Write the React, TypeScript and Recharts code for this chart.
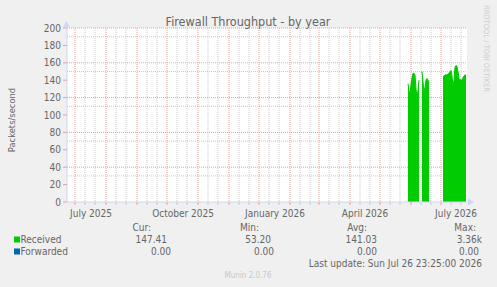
import React from 'react';
import { ComposedChart, Area, XAxis, YAxis, CartesianGrid } from 'recharts';

// x is counted in days from the left edge of the plot (about 23 June 2025)
const totalDays = 400;
const monthStartDays = [8, 39, 70, 100, 131, 162, 192, 223, 252, 283, 313, 344, 374];
const minorGridDays = [18, 28, 49, 59, 80, 90, 110, 120, 141, 151, 172, 182, 202, 212, 233, 243, 262, 272, 293, 303, 323, 333, 354, 364, 384, 394];
const labelDays = [24, 116, 208, 298, 389];
const labelNames = ['July 2025', 'October 2025', 'January 2026', 'April 2026', 'July 2026'];

const yMajorTicks = [0, 20, 40, 60, 80, 100, 120, 140, 160, 180, 200];
const yMinorTicks = [10, 30, 50, 70, 90, 110, 130, 150, 170, 190];

// Received packets/second, three stretches of samples
const receivedStart1 = 341;
const received1 = [136, 128, 124, 135, 143, 148, 148, 146, 130, 120, 128, 140];
const receivedStart2 = 355;
const received2 = [150, 138, 126, 132, 140, 142, 140, 138];
const receivedStart3 = 376;
const received3 = [144, 145, 146, 146, 146, 147, 148, 150, 151, 145, 133, 140, 155, 157, 156, 150, 142, 140, 141, 139, 143, 145, 146, 146];

const segments = [
  { start: receivedStart1, values: received1 },
  { start: receivedStart2, values: received2 },
  { start: receivedStart3, values: received3 },
];

const table = Array.from({ length: totalDays + 1 }, (_, day) => {
  let received: number | null = null;
  for (const s of segments) {
    if (day >= s.start && day < s.start + s.values.length) received = s.values[day - s.start];
  }
  return { day, received };
});

const FONT = "'DejaVu Sans Condensed', 'DejaVu Sans', sans-serif";
const TEXT = '#666666';
const AXIS = '#CFD6F8';
const MGRID = '#e4a3a3';
const GRID = '#c9c9c9';

const legendRows = [
  { name: 'Received', color: '#00cc00', cur: '147.41', min: '53.20', avg: '141.03', max: '3.36k' },
  { name: 'Forwarded', color: '#0066b3', cur: '0.00', min: '0.00', avg: '0.00', max: '0.00' },
];

const allXTicks = [...monthStartDays, ...minorGridDays, ...labelDays];

const XTick = (props: any) => {
  const { x, y, payload } = props;
  const v = payload.value;
  const li = labelDays.indexOf(v);
  if (li >= 0) {
    return (
      <text x={x} y={y + 15} textAnchor="middle" fontSize={10} fill={TEXT} fontFamily={FONT}>{labelNames[li]}</text>
    );
  }
  const major = monthStartDays.includes(v);
  return <line x1={x} x2={x} y1={y} y2={y + 3} stroke={major ? MGRID : GRID} />;
};

export default function App() {
  return (
    <div style={{ position: 'absolute', left: 0, top: 0, width: 497, height: 287, background: '#f0f0f0', fontFamily: FONT }}>
      <ComposedChart width={497} height={287} data={table} margin={{ top: 28, right: 30, bottom: 55, left: 0 }}>
        <CartesianGrid stroke={GRID} strokeDasharray="1 1" fill="#ffffff" fillOpacity={1}
          verticalValues={minorGridDays} horizontalValues={yMinorTicks} />
        <CartesianGrid stroke={MGRID} strokeDasharray="1 1"
          verticalValues={monthStartDays} horizontalValues={yMajorTicks.slice(1)} />
        <XAxis type="number" dataKey="day" domain={[0, totalDays]} ticks={allXTicks} interval={0}
          height={30} tickLine={false} tickSize={0} tickMargin={0} axisLine={{ stroke: AXIS }} tick={<XTick />} />
        <YAxis domain={[0, 200]} ticks={yMajorTicks} width={67} allowDataOverflow
          axisLine={{ stroke: AXIS }} tickLine={{ stroke: MGRID }} tickSize={4} tickMargin={2}
          tick={{ fill: TEXT, fontSize: 10, fontFamily: FONT }} />
        <Area type="linear" dataKey="received" fill="#00cc00" fillOpacity={1}
          stroke="#00cc00" strokeWidth={1} connectNulls={false} dot={false} activeDot={false}
          isAnimationActive={false} />
      </ComposedChart>
      <svg width={497} height={287} style={{ position: 'absolute', left: 0, top: 0, pointerEvents: 'none' }}
        fontFamily={FONT}>
        <polygon points="66.5,21 63,27 70,27" fill={AXIS} />
        <polygon points="474,202 468,198.5 468,205.5" fill={AXIS} />
        <text x={248} y={25.5} textAnchor="middle" fontSize={12.5} fill={TEXT}>Firewall Throughput - by year</text>
        <text transform="translate(14.5,120) rotate(-90)" textAnchor="middle" fontSize={9.3} fill={TEXT}>Packets/second</text>
        <text transform="translate(484,5) rotate(90)" textAnchor="start" fontSize={7.5} fill="#cccccc">RRDTOOL / TOBI OETIKER</text>
        <text x={151} y={231} textAnchor="end" fontSize={10} fill={TEXT}>Cur:</text>
        <text x={259} y={231} textAnchor="end" fontSize={10} fill={TEXT}>Min:</text>
        <text x={367} y={231} textAnchor="end" fontSize={10} fill={TEXT}>Avg:</text>
        <text x={476} y={231} textAnchor="end" fontSize={10} fill={TEXT}>Max:</text>
        {legendRows.map((r, i) => {
          const y = 243 + i * 12;
          return (
            <g key={r.name}>
              <rect x={14} y={y - 6.5} width={6} height={6} fill={r.color} />
              <text x={20.5} y={y} fontSize={10} fill={TEXT}>{r.name}</text>
              <text x={i === 0 ? 167 : 171} y={y} textAnchor="end" fontSize={10} fill={TEXT}>{r.cur}</text>
              <text x={i === 0 ? 271 : 274} y={y} textAnchor="end" fontSize={10} fill={TEXT}>{r.min}</text>
              <text x={377} y={y} textAnchor="end" fontSize={10} fill={TEXT}>{r.avg}</text>
              <text x={i === 0 ? 482 : 479} y={y} textAnchor="end" fontSize={10} fill={TEXT}>{r.max}</text>
            </g>
          );
        })}
        <text x={482} y={266.5} textAnchor="end" fontSize={10} fill={TEXT}>Last update: Sun Jul 26 23:25:00 2026</text>
        <text x={248} y={278} textAnchor="middle" fontSize={8} fill="#c8c8c8">Munin 2.0.76</text>
      </svg>
    </div>
  );
}
